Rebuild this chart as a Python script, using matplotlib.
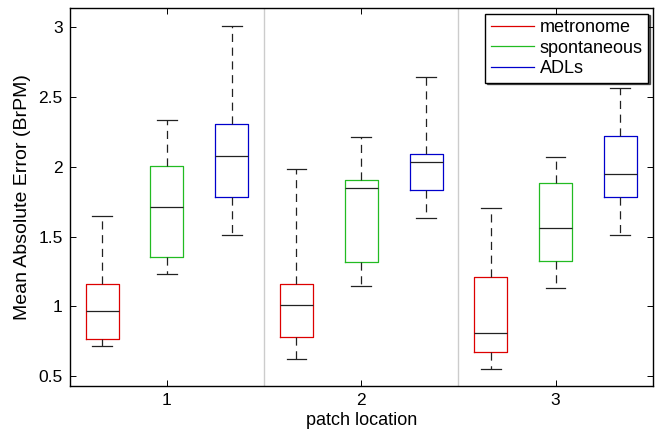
import matplotlib
matplotlib.use("Agg")
import matplotlib.pyplot as plt
import numpy as np

# patch locations and conditions
LOCATIONS = [1, 2, 3]
CONDITIONS = ["metronome", "spontaneous", "ADLs"]
COLORS = ["#dd0000", "#22bb22", "#0000cc"]

# box stats per location: (whislo, q1, med, q3, whishi)
METRONOME = [
    (0.713, 0.763, 0.968, 1.159, 1.648),
    (0.624, 0.784, 1.011, 1.157, 1.985),
    (0.548, 0.670, 0.808, 1.211, 1.706),
]
SPONTANEOUS = [
    (1.231, 1.355, 1.713, 2.006, 2.332),
    (1.145, 1.319, 1.849, 1.904, 2.210),
    (1.133, 1.324, 1.562, 1.885, 2.067),
]
ADLS = [
    (1.510, 1.787, 2.076, 2.307, 3.012),
    (1.634, 1.837, 2.031, 2.088, 2.642),
    (1.510, 1.787, 1.947, 2.221, 2.561),
]

Y_TICKS = [0.5, 1, 1.5, 2, 2.5, 3]
Y_TICK_LABELS = ["0.5", "1", "1.5", "2", "2.5", "3"]


def make_stats(rows):
    return [
        {"whislo": lo, "q1": q1, "med": med, "q3": q3, "whishi": hi, "fliers": []}
        for lo, q1, med, q3, hi in rows
    ]


def main() -> None:
    plt.rcParams.update(
        {
            "font.family": ["Liberation Sans", "DejaVu Sans"],
            "font.size": 12,
            "xtick.direction": "in",
            "ytick.direction": "in",
        }
    )

    fig = plt.figure(figsize=(6.58, 4.32), dpi=100)
    ax = fig.add_axes([0.106, 0.106, 0.886, 0.875])

    offsets = [-1 / 3, 0.0, 1 / 3]
    box_w = 0.17
    for series, color, offset, label in zip(
        [METRONOME, SPONTANEOUS, ADLS], COLORS, offsets, CONDITIONS
    ):
        positions = [loc + offset for loc in LOCATIONS]
        ax.bxp(
            make_stats(series),
            positions=positions,
            widths=box_w,
            capwidths=box_w * 0.6,
            showfliers=False,
            boxprops={"color": color, "linewidth": 0.9},
            medianprops={"color": "#222222", "linewidth": 0.9},
            whiskerprops={"color": "#222222", "linewidth": 0.9, "linestyle": (0, (6.5, 4.5))},
            capprops={"color": "#222222", "linewidth": 0.9},
            manage_ticks=False,
        )
        ax.plot([], [], color=color, linewidth=0.9, label=label)

    for sep in [1.5, 2.5]:
        ax.axvline(sep, color="#cccccc", linewidth=1.0, zorder=0)

    ax.set_xlim(0.5, 3.5)
    ax.set_ylim(0.428, 3.136)
    ax.set_xticks(LOCATIONS)
    ax.set_xticklabels([str(v) for v in LOCATIONS])
    ax.set_yticks(Y_TICKS)
    ax.set_yticklabels(Y_TICK_LABELS)
    ax.tick_params(top=True, right=True, length=4, width=0.7, labelsize=12.5, pad=5)
    ax.set_xlabel("patch location", fontsize=13, labelpad=3)
    ax.set_ylabel("Mean Absolute Error (BrPM)", fontsize=14, labelpad=5)
    for spine in ax.spines.values():
        spine.set_linewidth(1.0)
        spine.set_color("black")

    legend = ax.legend(
        loc="upper right",
        bbox_to_anchor=(0.998, 0.995),
        fontsize=13,
        fancybox=False,
        shadow={"ox": 1.2, "oy": -1.2, "color": "black", "alpha": 0.6},
        handlelength=2.4,
        handletextpad=0.3,
        labelspacing=0.2,
        borderpad=0.3,
        borderaxespad=0.2,
        framealpha=1.0,
    )
    legend.get_frame().set_edgecolor("black")
    legend.get_frame().set_linewidth(1.0)

    fig.savefig("out.png", dpi=100)
    plt.close(fig)


if __name__ == "__main__":
    main()
